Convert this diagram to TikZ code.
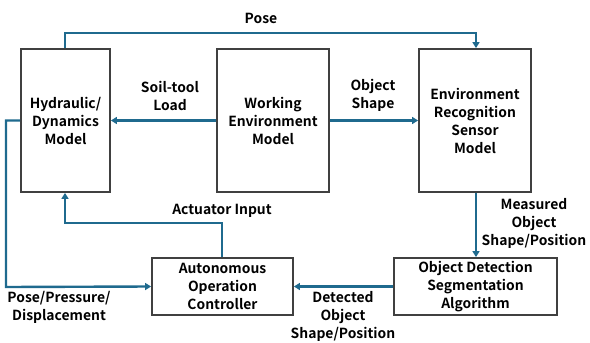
\documentclass[tikz,border=0pt]{standalone}
\usepackage{fontspec}
\setmainfont{Noto Sans CJK KR}[BoldFont={* Bold}]
\usetikzlibrary{arrows.meta}
\definecolor{flow}{HTML}{1F6A8E}
\definecolor{frame}{HTML}{404040}
\tikzset{
  block/.style={draw=frame, line width=1.8pt, fill=white, align=center,
    font=\bfseries\fontsize{13.9}{18}\selectfont, inner sep=0pt},
  link/.style={draw=flow, line width=2.4pt, -{Triangle[length=6pt,width=7pt]}},
  tag/.style={align=center, font=\bfseries\fontsize{13.9}{18}\selectfont, inner sep=0pt}
}
\begin{document}
\begin{tikzpicture}[x=1pt,y=-1pt]
\useasboundingbox (0,0) rectangle (590,343);
% model blocks (top row)
\node[block, minimum width=89pt, minimum height=143pt] (hyd) at (65.5,120.5) {Hydraulic/\\Dynamics\\Model};
\node[block, minimum width=112pt, minimum height=143pt] (work) at (273,120.5) {Working\\Environment\\Model};
\node[block, minimum width=112pt, minimum height=143pt] (env) at (475,120.5) {Environment\\Recognition\\Sensor\\Model};
% bottom row
\node[block, minimum width=141pt, minimum height=57pt] (ctrl) at (222.5,286.5) {Autonomous\\Operation\\Controller};
\node[block, minimum width=163pt, minimum height=57pt] (det) at (475.5,286.5) {Object Detection\\Segmentation\\Algorithm};
% connectors
\coordinate (p1) at (65,33);
\coordinate (p2) at (476,33);
\draw[link] (hyd.north -| p1) -- (p1) -- (p2) -- (env.north -| p2);
\draw[link] (work.west) -- (hyd.east);
\draw[link] (work.east) -- (env.west);
\draw[link] (env.south -| p2) -- (det.north -| p2);
\draw[link] (det.west) -- (ctrl.east);
\coordinate (a1) at (222,223);
\coordinate (a2) at (65,223);
\draw[link] (ctrl.north -| a1) -- (a1) -- (a2) -- (hyd.south -| a2);
\coordinate (b1) at (6,120.5);
\coordinate (b2) at (6,287);
\draw[link] (hyd.west) -- (b1) -- (b2) -- (ctrl.west);
% labels
\node[tag] (lpose) at (261,18) {Pose};
\node[tag] (lsoil) at (170,96) {Soil-tool\\Load};
\node[tag] (lobj) at (373,95) {Object\\Shape};
\node[tag] (lmeas) at (534,223) {Measured\\Object\\Shape/Position};
\node[tag] (ldet) at (343,316) {Detected\\Object\\Shape/Position};
\node[tag] (lact) at (222,211) {Actuator Input};
\node[tag] (lpp) at (59,307) {Pose/Pressure/\\Displacement};
\end{tikzpicture}
\end{document}
